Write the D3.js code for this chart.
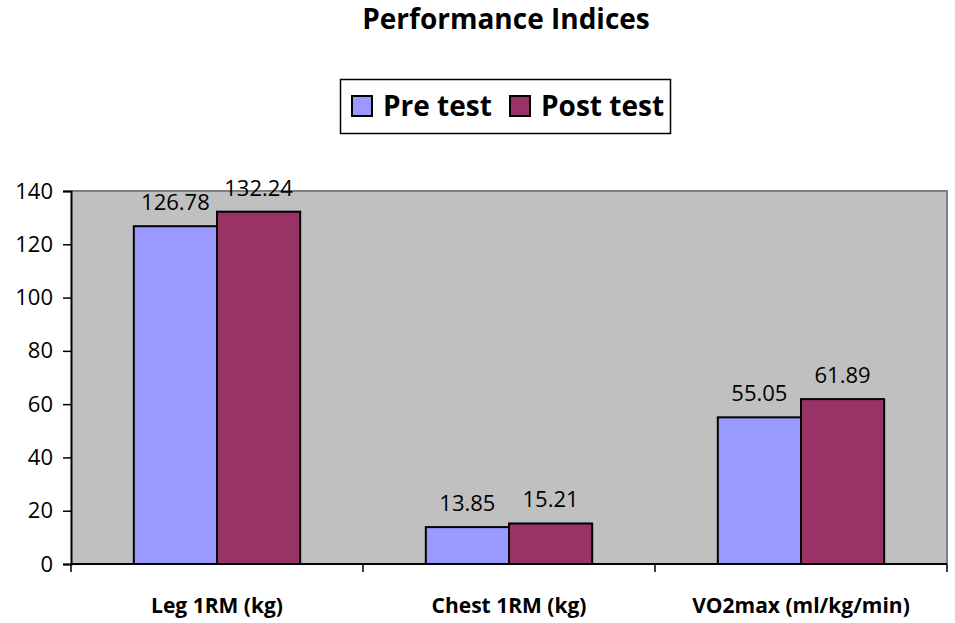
<!DOCTYPE html>
<html>
<head>
<meta charset="utf-8">
<script src="https://cdn.jsdelivr.net/npm/d3@7"></script>
<style>
  body { margin: 0; background: #fff; }
  text { font-family: "Open Sans", "Noto Sans", sans-serif; }
</style>
</head>
<body>
<script>
var categories = ['Leg 1RM (kg)', 'Chest 1RM (kg)', 'VO2max (ml/kg/min)'];
var seriesNames = ['Pre test', 'Post test'];
var preValues = [126.78, 13.85, 55.05];
var postValues = [132.24, 15.21, 61.89];
var yTicks = [0, 20, 40, 60, 80, 100, 120, 140];
var colors = ['#9999ff', '#993366'];

var width = 955;
var height = 623;
var plot = {left: 71, top: 191, right: 947, bottom: 564};

var rows = categories.map(function(c, i) {
  return {cat: c, values: [preValues[i], postValues[i]]};
});

var svg = d3.select('body').append('svg')
  .attr('width', width)
  .attr('height', height);

var x0 = d3.scaleBand()
  .domain(categories)
  .range([plot.left, plot.right])
  .paddingInner(0)
  .paddingOuter(0);

var x1 = d3.scaleBand()
  .domain(seriesNames)
  .range([0, x0.bandwidth()])
  .paddingOuter(0.755)
  .paddingInner(0);

var y = d3.scaleLinear()
  .domain([0, 140])
  .range([plot.bottom, plot.top]);

// plot background
svg.append('rect')
  .attr('x', plot.left)
  .attr('y', plot.top)
  .attr('width', plot.right - plot.left)
  .attr('height', plot.bottom - plot.top)
  .attr('fill', '#c0c0c0')
  .attr('stroke', 'none');

svg.append('path')
  .attr('d', 'M' + plot.left + ',' + plot.top + 'H' + plot.right + 'V' + plot.bottom)
  .attr('fill', 'none')
  .attr('stroke', '#808080')
  .attr('stroke-width', 2);

// bars
var groups = svg.selectAll('.group')
  .data(rows)
  .enter().append('g')
    .attr('class', 'group')
    .attr('transform', function(d) { return 'translate(' + x0(d.cat) + ',0)'; });

groups.selectAll('rect')
  .data(function(d) { return d.values.map(function(v, i) { return {name: seriesNames[i], value: v, i: i}; }); })
  .enter().append('rect')
    .attr('x', function(d) { return x1(d.name); })
    .attr('y', function(d) { return y(d.value); })
    .attr('width', x1.bandwidth())
    .attr('height', function(d) { return y(0) - y(d.value); })
    .attr('fill', function(d) { return colors[d.i]; })
    .attr('stroke', '#000')
    .attr('stroke-width', 2);

groups.selectAll('.val')
  .data(function(d) { return d.values.map(function(v, i) { return {name: seriesNames[i], value: v}; }); })
  .enter().append('text')
    .attr('class', 'val')
    .attr('x', function(d) { return x1(d.name) + x1.bandwidth() / 2; })
    .attr('y', function(d) { return y(d.value) - 16; })
    .attr('text-anchor', 'middle')
    .attr('font-size', 22)
    .attr('fill', '#000')
    .text(function(d) { return d.value.toFixed(2); });

// y axis
var yAxis = svg.append('g')
  .attr('transform', 'translate(' + plot.left + ',0)')
  .call(d3.axisLeft(y).tickValues(yTicks).tickSize(8).tickPadding(10));
yAxis.select('.domain').attr('stroke', '#000').attr('stroke-width', 2);
yAxis.selectAll('.tick line').attr('stroke', '#000').attr('stroke-width', 1.5);
yAxis.selectAll('.tick text')
  .attr('font-size', 22)
  .attr('font-family', '"Open Sans", sans-serif')
  .attr('fill', '#000');

// x axis
var xAxis = svg.append('g')
  .attr('transform', 'translate(0,' + plot.bottom + ')');
xAxis.append('line')
  .attr('x1', plot.left).attr('x2', plot.right)
  .attr('stroke', '#000').attr('stroke-width', 2);
var bounds = categories.map(function(c) { return x0(c); }).concat([plot.right]);
xAxis.selectAll('.xt')
  .data(bounds)
  .enter().append('line')
    .attr('x1', function(d) { return d; })
    .attr('x2', function(d) { return d; })
    .attr('y1', 0).attr('y2', 8)
    .attr('stroke', '#000').attr('stroke-width', 1.5);
xAxis.selectAll('.xl')
  .data(categories)
  .enter().append('text')
    .attr('x', function(d) { return x0(d) + x0.bandwidth() / 2; })
    .attr('y', 49)
    .attr('text-anchor', 'middle')
    .attr('font-size', 21)
    .attr('font-weight', 'bold')
    .text(function(d) { return d; });

// title
svg.append('text')
  .attr('x', 506)
  .attr('y', 29)
  .attr('text-anchor', 'middle')
  .attr('font-size', 28)
  .attr('font-weight', 'bold')
  .text('Performance Indices');

// legend
var legend = svg.append('g');
legend.append('rect')
  .attr('x', 340.5).attr('y', 79.5)
  .attr('width', 330).attr('height', 54)
  .attr('fill', '#fff')
  .attr('stroke', '#000')
  .attr('stroke-width', 1.5);
var legX = [352, 510];
seriesNames.forEach(function(name, i) {
  legend.append('rect')
    .attr('x', legX[i]).attr('y', 96)
    .attr('width', 20).attr('height', 20)
    .attr('fill', colors[i])
    .attr('stroke', '#000')
    .attr('stroke-width', 2);
  legend.append('text')
    .attr('x', legX[i] + 31)
    .attr('y', 116)
    .attr('font-size', 28)
    .attr('font-weight', 'bold')
    .text(name);
});
</script>
</body>
</html>
